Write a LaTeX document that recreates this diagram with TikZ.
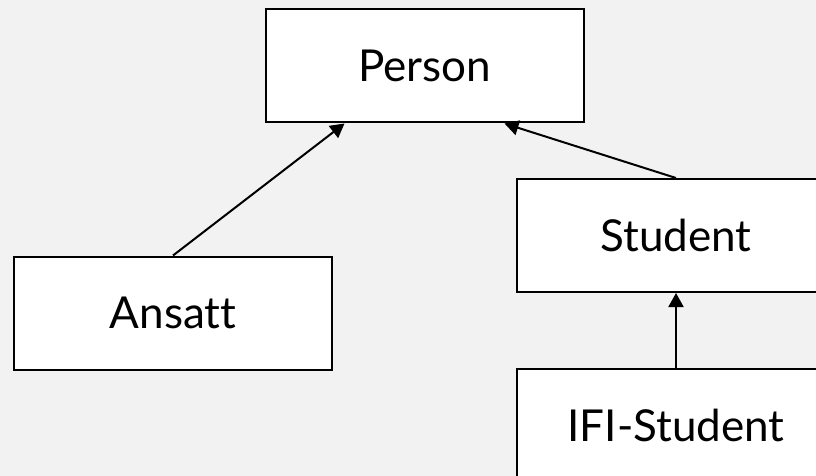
\documentclass[tikz,border=0pt]{standalone}
\usepackage{fontspec}
\setmainfont{Lato}[Ligatures=NoCommon]
\usetikzlibrary{arrows.meta,calc}
\definecolor{gray50}{HTML}{F2F2F2}
\tikzstyle{klasse}=[rectangle, draw=black, fill=white, line width=2pt, minimum width=318pt, minimum height=113pt, inner sep=0pt, font=\fontsize{44}{50}\selectfont]
\tikzstyle{arv}=[line width=2pt, -{Triangle[length=14pt,width=15pt]}]

\begin{document}
\begin{tikzpicture}[x=1pt,y=-1pt]
	\clip (0,0) rectangle (816,476);
	\fill[gray50] (0,0) rectangle (816,476);
	\node[klasse] (person) at (424.5,66) {Person};
	\node[klasse] (ansatt) at (173,313) {Ansatt};
	\node[klasse] (student) at (676,235.5) {Student};
	\node[klasse] (ifi) at (676,425.5) {IFI-Student};
	\coordinate (p1) at ($(person.south west)!.25!(person.south east)$);
	\coordinate (p2) at ($(person.south west)!.75!(person.south east)$);
	\path[draw=black, arv] (ansatt.north) -- (p1);
	\path[draw=black, arv] (student.north) -- (p2);
	\path[draw=black, arv] (ifi.north) -- (student.south);
\end{tikzpicture}
\end{document}
